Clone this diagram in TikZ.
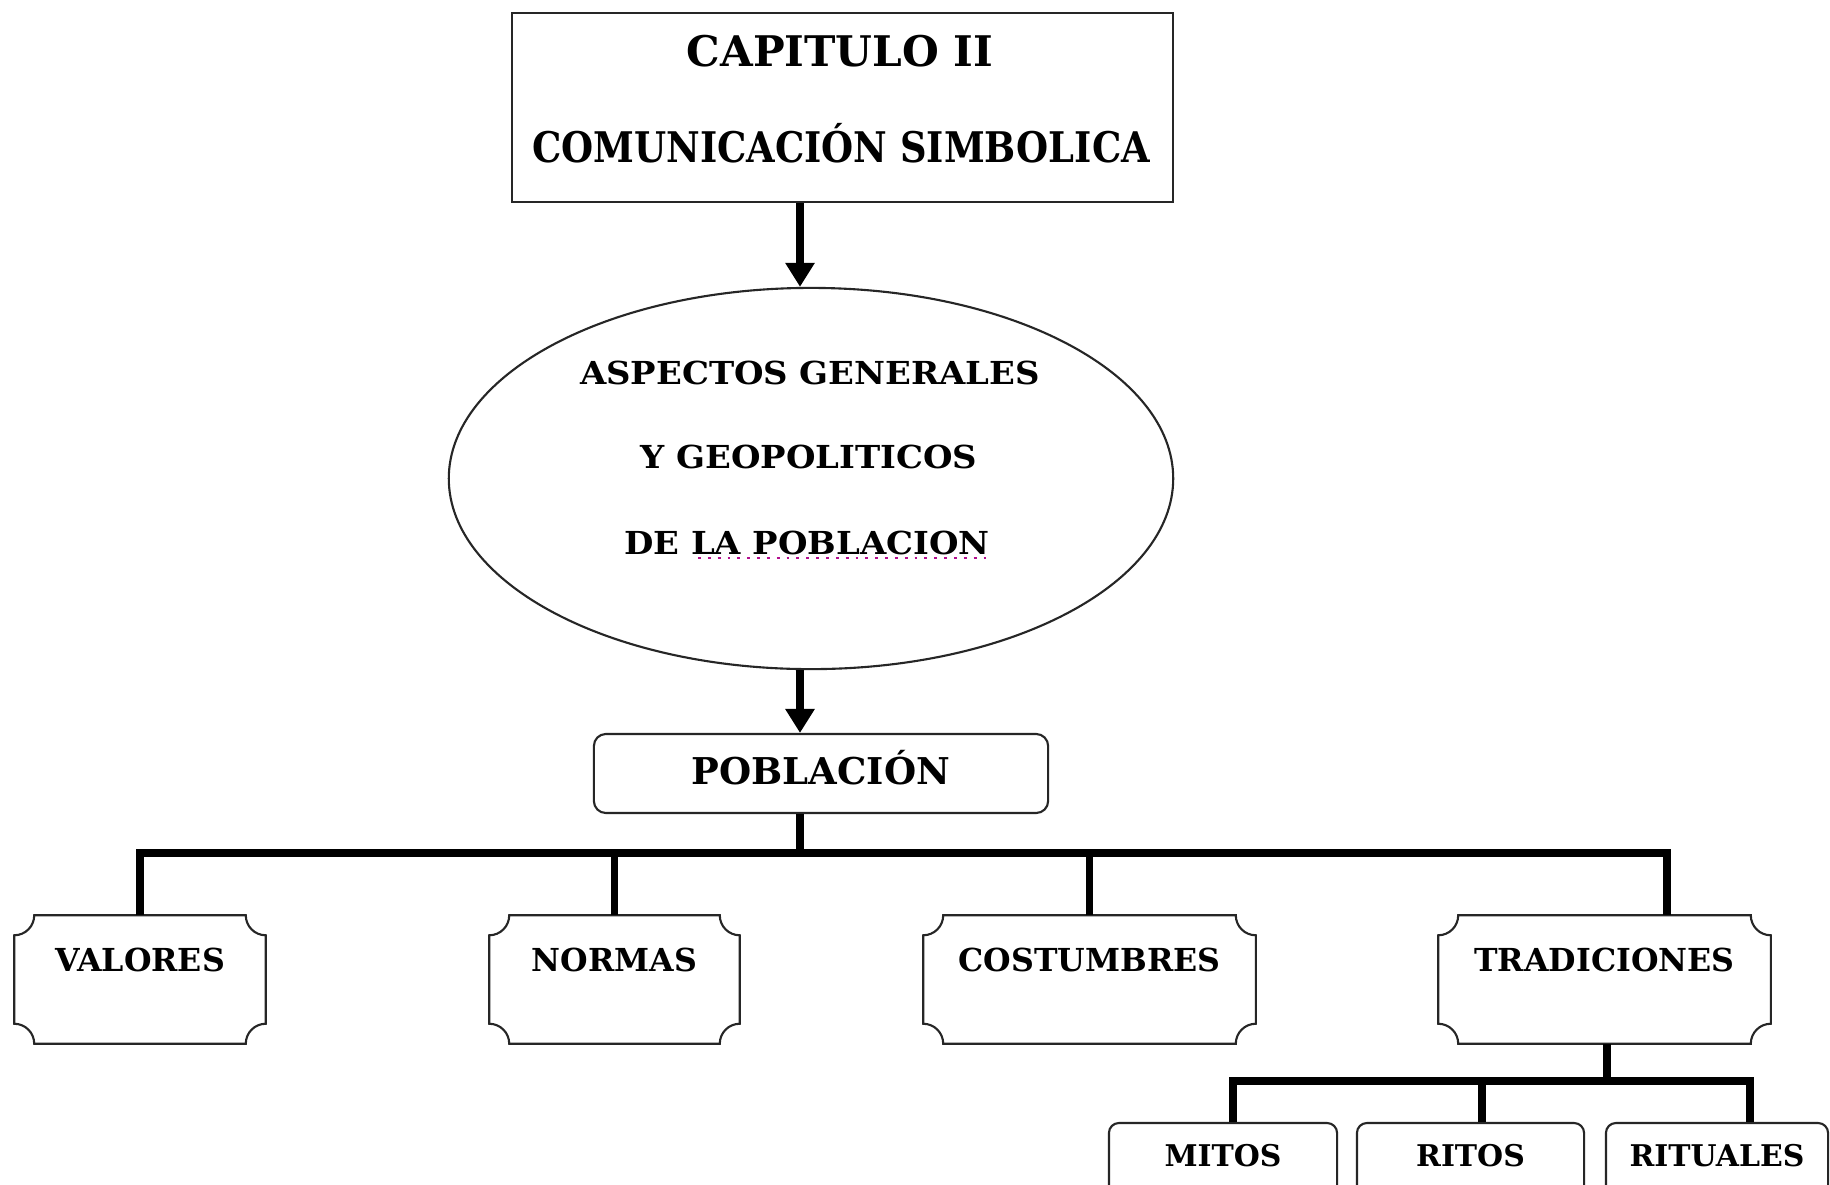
\documentclass[tikz,border=0pt]{standalone}
\usepackage{fontspec}
\setmainfont{DejaVu Serif}
\newfontfamily\condfont{DejaVu Serif}[FakeStretch=0.873]
\newfontfamily\widefont{DejaVu Serif}[FakeStretch=1.07]
\usetikzlibrary{arrows.meta,shapes.geometric}
\tikzset{
  boxline/.style={draw=black!85, line width=0.6pt},
  conn/.style={line width=2.1pt, line join=miter},
  arr/.style={line width=2.1pt, -{Triangle[width=0.28cm,length=0.24cm]}},
  titletxt/.style={font=\fontsize{12}{14}\selectfont\bfseries, inner sep=0pt},
  elltxt/.style={font=\widefont\fontsize{9}{11}\selectfont\bfseries, inner sep=0pt},
  scbox/.style={minimum height=1.27cm, inner xsep=0pt, inner ysep=0pt,
    text height=0.555cm, text depth=0.715cm, font=\fontsize{9}{11}\selectfont\bfseries},
  leafbox/.style={boxline, rounded corners=0.1cm, minimum height=0.8cm, inner xsep=0pt, inner ysep=0pt,
    text height=0.43cm, text depth=0.37cm, font=\fontsize{8.5}{10}\selectfont\bfseries},
}
\newcommand\scallop[1]{%
  \draw[boxline] ([xshift=0.2cm]#1.north west) -- ([xshift=-0.2cm]#1.north east)
    arc[start angle=180,end angle=270,radius=0.2cm]
    -- ([yshift=0.2cm]#1.south east) arc[start angle=90,end angle=180,radius=0.2cm]
    -- ([xshift=0.2cm]#1.south west) arc[start angle=0,end angle=90,radius=0.2cm]
    -- ([yshift=-0.2cm]#1.north west) arc[start angle=270,end angle=360,radius=0.2cm]
    -- cycle;}
\begin{document}
\begin{tikzpicture}[x=0.01cm,y=0.01cm]
\useasboundingbox (0,0) rectangle (1830,-1184);
\clip (0,0) rectangle (1830,-1184);
\fill[white] (0,0) rectangle (1830,-1184);

% title box
\node[boxline, minimum width=6.61cm, minimum height=1.89cm, inner sep=0pt] (top) at (842.5,-107.5) {};
\node[titletxt, anchor=base] (t1) at (840,-66) {CAPITULO II};
\node[titletxt, font=\condfont\fontsize{12}{14}\selectfont\bfseries, anchor=base] (t2) at (841,-162) {COMUNICACIÓN SIMBOLICA};

% ellipse
\node[boxline, ellipse, minimum width=7.24cm, minimum height=3.81cm, inner sep=0pt] (ell) at (811,-478.5) {};
\node[elltxt, anchor=base] (e1) at (810,-384.5) {ASPECTOS GENERALES};
\node[elltxt, anchor=base] (e2) at (809,-468.5) {Y GEOPOLITICOS};
\node[elltxt, anchor=base] (e3) at (807,-554.5) {DE LA POBLACION};
\draw[magenta!70!blue, line width=0.8pt, dotted] (698,-558) -- (987,-558);

% poblacion
\node[boxline, rounded corners=0.12cm, minimum width=4.54cm, minimum height=0.79cm, inner xsep=0pt, inner ysep=0pt,
  text height=0.505cm, text depth=0.285cm, font=\fontsize{10.5}{12}\selectfont\bfseries] (pob) at (821,-773.5) {POBLACIÓN};

\coordinate (ax) at (800,0);
\draw[arr] (top.south -| ax) -- (ell.north -| ax);
\draw[arr] (ell.south -| ax) -- (pob.north -| ax);

% second level
\node[scbox, minimum width=2.50cm] (val) at (140,-979.5) {VALORES};
\node[scbox, minimum width=2.49cm] (nor) at (614.5,-979.5) {NORMAS};
\node[scbox, minimum width=3.31cm] (cos) at (1089.5,-979.5) {COSTUMBRES};
\node[scbox, minimum width=3.31cm] (tra) at (1604.5,-979.5) {TRADICIONES};
\scallop{val}\scallop{nor}\scallop{cos}\scallop{tra}

\coordinate (bus) at (800,-853);
\coordinate (td) at (1667,0);
\draw[conn] (pob.south -| ax) -- (bus);
\draw[conn] (val.north) |- (bus) -| (tra.north -| td);
\draw[conn] (nor.north) -- (nor.north |- bus);
\draw[conn] (cos.north) -- (cos.north |- bus);

% third level
\node[leafbox, minimum width=2.28cm] (mit) at (1223,-1163) {MITOS};
\node[leafbox, minimum width=2.27cm] (rit) at (1470.5,-1163) {RITOS};
\node[leafbox, minimum width=2.22cm] (rtu) at (1717,-1163) {RITUALES};

\coordinate (bus2) at (1607,-1081);
\coordinate (d1) at (1233,0);
\coordinate (d2) at (1482,0);
\coordinate (d3) at (1750,0);
\draw[conn] (tra.south -| bus2) -- (bus2);
\draw[conn] (mit.north -| d1) |- (bus2) -| (rtu.north -| d3);
\draw[conn] (rit.north -| d2) -- (d2 |- bus2);
\end{tikzpicture}
\end{document}
